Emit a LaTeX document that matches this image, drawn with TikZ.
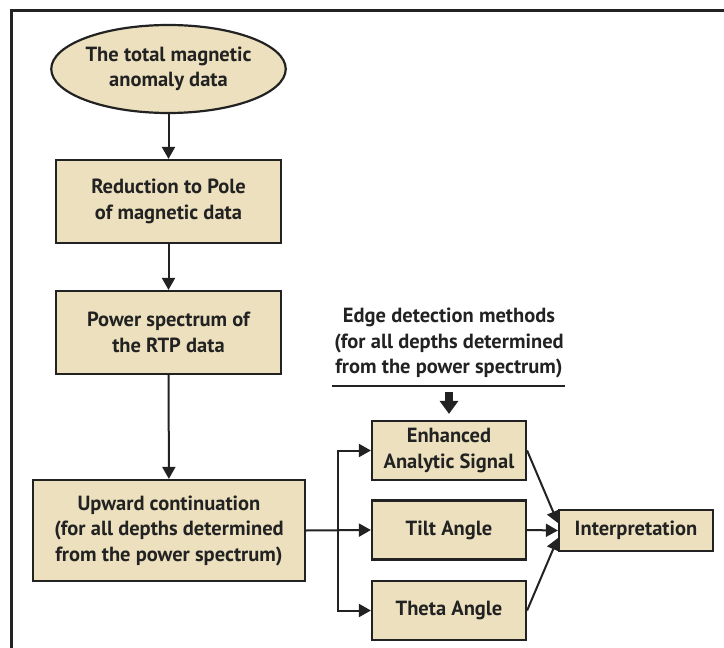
\documentclass[tikz,border=0pt]{standalone}
\usepackage{fontspec}
\setmainfont{PT Sans}
\usetikzlibrary{shapes.geometric,arrows.meta}
\definecolor{boxfill}{RGB}{236,224,190}
\definecolor{ink}{RGB}{34,34,34}
\begin{document}
\begin{tikzpicture}[x=1pt,y=-1pt,
  every node/.style={font=\fontsize{20.5}{25.5}\selectfont\bfseries, text=ink, align=center, inner sep=0pt},
  stepbox/.style={draw=ink, line width=2.2pt, fill=boxfill, rectangle},
  startbox/.style={draw=ink, line width=2.2pt, fill=boxfill, ellipse},
  conn/.style={draw=ink, line width=2pt, -{Triangle[length=12pt,width=13pt]}},
  link/.style={draw=ink, line width=2pt}]
\useasboundingbox (0,0) rectangle (724,648);
\begin{scope}
\clip (0,0) rectangle (724,648);
\draw[ink, line width=3pt] (11.5,10.5) rectangle (760,700);
\end{scope}

\node[startbox, minimum width=225, minimum height=88] (start) at (168.5,69) {The total magnetic\\anomaly data};
\node[stepbox, minimum width=225, minimum height=83] (rtp) at (168.5,201.5) {Reduction to Pole\\of magnetic data};
\node[stepbox, minimum width=225, minimum height=83] (ps) at (168.5,332.5) {Power spectrum of\\the RTP data};
\node[stepbox, minimum width=272, minimum height=101] (up) at (169,530.5) {Upward continuation\\(for all depths determined\\from the power spectrum)};
\node[stepbox, minimum width=154, minimum height=59] (eas) at (449,450.5) {Enhanced\\Analytic Signal};
\node[stepbox, minimum width=154, minimum height=59] (tilt) at (449,530) {Tilt Angle};
\node[stepbox, minimum width=154, minimum height=59] (theta) at (449,610.5) {Theta Angle};
\node[stepbox, minimum width=154, minimum height=41] (interp) at (636,530.5) {Interpretation};
\node (head) at (449,343) {Edge detection methods\\(for all depths determined\\from the power spectrum)};

\coordinate (ulL) at (332,385.5);
\coordinate (ulR) at (565,385.5);
\coordinate (br) at (338,530);
\coordinate (hx) at (449,392);

\draw[conn] (start) -- (rtp);
\draw[conn] (rtp) -- (ps);
\draw[conn] (ps) -- (up);
\draw[link] (ulL) -- (ulR);
\draw[draw=ink, line width=8pt, -{Triangle[length=13pt,width=18pt]}, shorten >=6pt] (hx) -- (eas.north);
\draw[conn] (up.east) -- (tilt.west);
\draw[conn] (br) |- (eas.west);
\draw[conn] (br) |- (theta.west);
\draw[conn] (eas.east) -- ([yshift=7.5pt]interp.west);
\draw[conn] (tilt.east) -- (interp.west);
\draw[conn] (theta.east) -- ([yshift=-7.5pt]interp.west);
\end{tikzpicture}
\end{document}
